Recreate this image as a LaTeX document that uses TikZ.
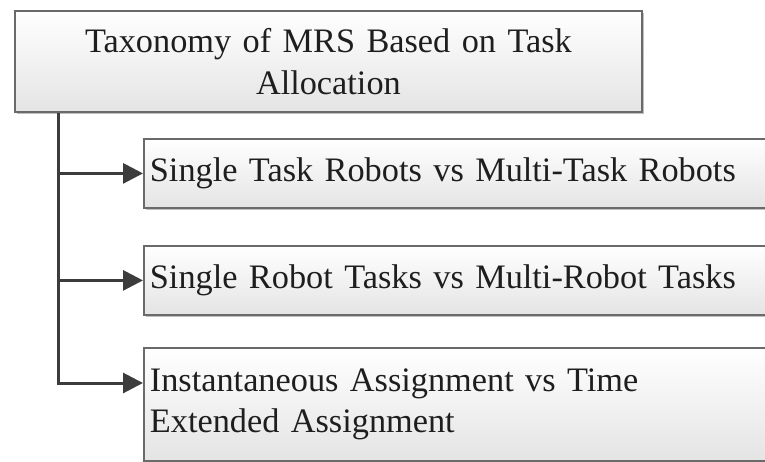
\documentclass[tikz,border=0pt]{standalone}
\usepackage{fontspec}
\setmainfont{Liberation Serif}
\usetikzlibrary{arrows.meta,shadows}
\definecolor{boxedge}{HTML}{6A6A6A}
\definecolor{boxlow}{HTML}{E4E4E4}
\definecolor{linkcol}{HTML}{3C3C3C}
\definecolor{inkcol}{HTML}{1E1E1E}
\begin{document}
\begin{tikzpicture}[x=1pt,y=-1pt,
  box/.style={draw=boxedge, line width=1.8pt, top color=white, bottom color=boxlow,
    drop shadow={shadow xshift=2.5pt, shadow yshift=-2.5pt, opacity=0.25, fill=black},
    rectangle, anchor=north west, inner sep=0pt, text=inkcol,
    font=\fontsize{34.3}{41.5}\selectfont},
  link/.style={draw=linkcol, line width=3pt, -{Triangle[length=20pt,width=20pt]}},
  trunk/.style={draw=linkcol, line width=3pt}]
  \useasboundingbox (0,0) rectangle (765,462);
  % heading box
  \node[box, minimum width=627pt, minimum height=101pt, align=center, text width=600pt]
    (top) at (14,10) {Taxonomy of MRS Based on Task\\Allocation};
  % category boxes
  \node[box, minimum width=624pt, minimum height=69pt, text width=612pt, align=left]
    (b1) at (143,138) {Single Task Robots vs Multi-Task Robots};
  \node[box, minimum width=624pt, minimum height=69pt, text width=612pt, align=left]
    (b2) at (143,245) {Single Robot Tasks vs Multi-Robot Tasks};
  \node[box, minimum width=624pt, minimum height=113pt, text width=612pt, align=left]
    (b3) at (143,347) {Instantaneous Assignment vs Time\\Extended Assignment};
  % connectors
  \coordinate (root) at ([xshift=44pt]top.south west);
  \coordinate (b3in) at ([yshift=-36pt]b3.north west);
  \draw[trunk] (root) -- (root |- b3in);
  \draw[link] (root |- b1.west) -- (b1.west);
  \draw[link] (root |- b2.west) -- (b2.west);
  \draw[link] ([xshift=-1.5pt]root |- b3in) -- (b3in);
\end{tikzpicture}
\end{document}
